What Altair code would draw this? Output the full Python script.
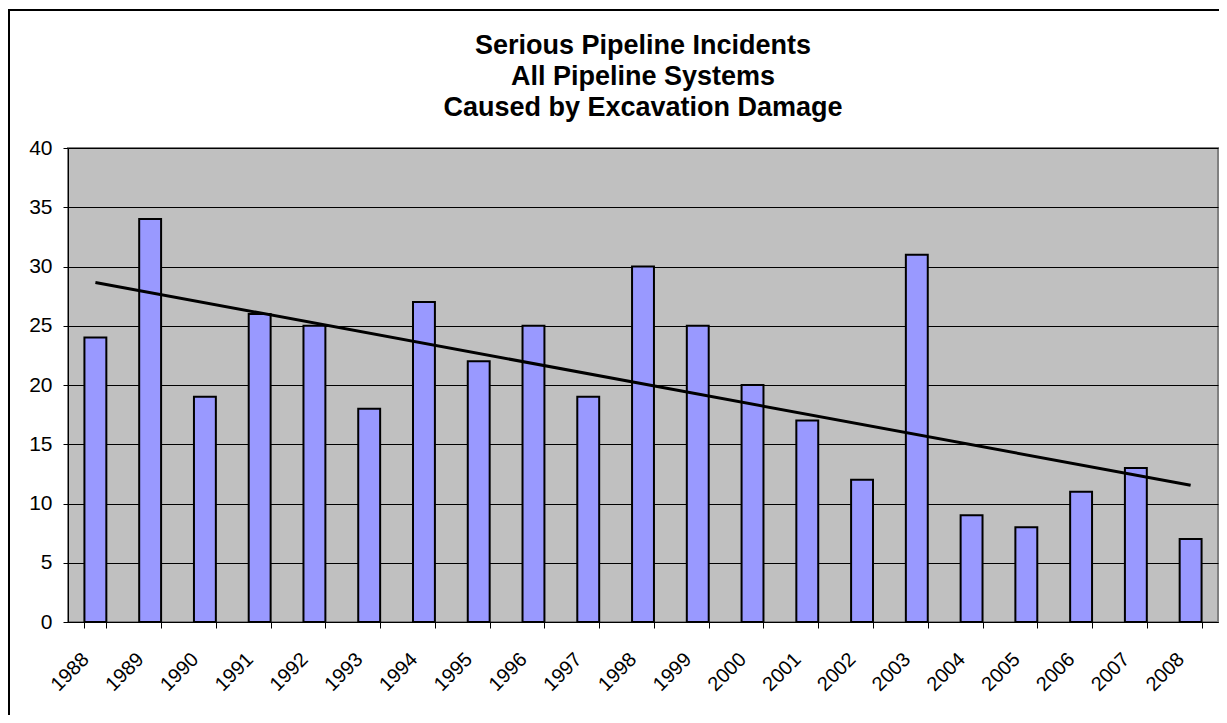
import altair as alt
import pandas as pd

years = ["1988", "1989", "1990", "1991", "1992", "1993", "1994", "1995", "1996", "1997",
         "1998", "1999", "2000", "2001", "2002", "2003", "2004", "2005", "2006", "2007", "2008"]
incidents = [24, 34, 19, 26, 25, 18, 27, 22, 25, 19, 30, 25, 20, 17, 12, 31, 9, 8, 11, 13, 7]
y_ticks = [0, 5, 10, 15, 20, 25, 30, 35, 40]
title_lines = ["Serious Pipeline Incidents", "All Pipeline Systems", "Caused by Excavation Damage"]

df = pd.DataFrame({"year": years, "count": incidents, "idx": list(range(len(years)))})

W, H = 1150, 474
FONT = "Liberation Sans"

x_enc = alt.X("year:N", scale=alt.Scale(domain=years, paddingInner=0.6, paddingOuter=0.3),
              axis=alt.Axis(title=None, labelAngle=-45, labelAlign="right", labelBaseline="middle",
                            labelFontSize=20, labelFont=FONT, labelColor="black", labelPadding=28,
                            labelOffset=-10,
                            tickBand="extent", tickSize=6, tickColor="black", domainColor="black",
                            grid=False))
y_enc = alt.Y("count:Q", scale=alt.Scale(domain=[0, 40], nice=False),
              axis=alt.Axis(title=None, values=y_ticks, labelFontSize=21, labelFont=FONT,
                            labelColor="black", labelPadding=11, tickSize=5, tickColor="black",
                            domainColor="black", grid=True, gridColor="black", gridWidth=1))

bars = alt.Chart(df).mark_bar(fill="#9999FF", stroke="black", strokeWidth=2).encode(x=x_enc, y=y_enc)

trend = alt.Chart(df).transform_regression("idx", "count", method="linear").transform_calculate(
    year="toString(1988 + round(datum.idx))"
).mark_line(color="black", strokeWidth=3).encode(x="year:N", y="count:Q")

frame_df = pd.DataFrame({"k": [0]})
frame_left = alt.Chart(frame_df).mark_rule(color="black", strokeWidth=2).encode(
    x=alt.value(-59), y=alt.value(-138), y2=alt.value(H + 120))
frame_top = alt.Chart(frame_df).mark_rule(color="black", strokeWidth=2).encode(
    x=alt.value(-60), x2=alt.value(W + 20), y=alt.value(-138))

chart = alt.layer(bars, trend, frame_left, frame_top).properties(
    width=W, height=H,
    background="white",
    title=alt.TitleParams(text=title_lines, fontSize=27, font=FONT, fontWeight="bold",
                          color="black", lineHeight=31, anchor="middle", offset=-113),
    padding={"left": 60, "top": 140, "right": 1, "bottom": 93},
    autosize=alt.AutoSizeParams(type="none"),
).configure_view(fill="#C0C0C0", stroke="#808080", strokeWidth=2)

chart.save("out.html", embed_options={"renderer": "svg", "actions": False})
